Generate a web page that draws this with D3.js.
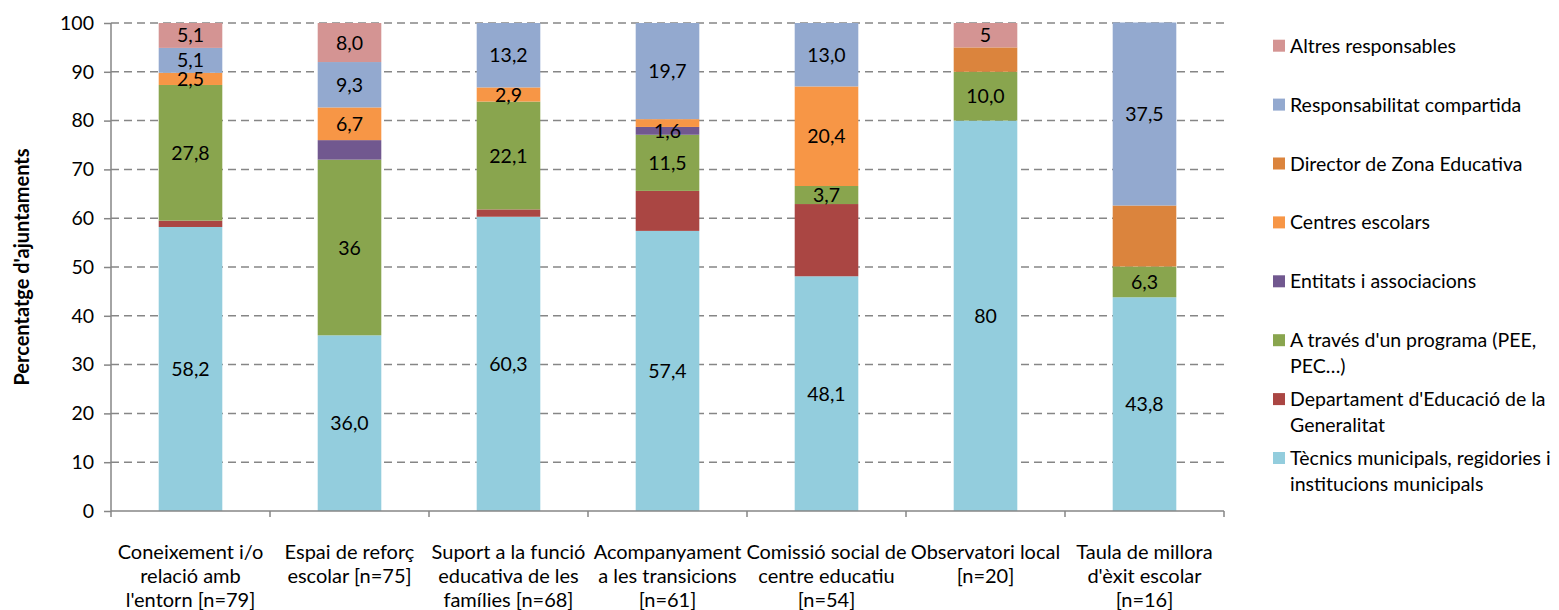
<!DOCTYPE html>
<html>
<head>
<meta charset="utf-8">
<script src="https://cdn.jsdelivr.net/npm/d3@7"></script>
<style>
body { margin: 0; background: #fff; }
svg text { font-family: Lato, "Open Sans", sans-serif; fill: #000; }
</style>
</head>
<body>
<svg width="1559" height="610"></svg>
<script>
// categories (each entry = wrapped lines of the tick label)
var categories = [
    ["Coneixement i/o", "relació amb", "l'entorn [n=79]"],
    ["Espai de reforç", "escolar [n=75]"],
    ["Suport a la funció", "educativa de les", "famílies [n=68]"],
    ["Acompanyament", "a les transicions", "[n=61]"],
    ["Comissió social de", "centre educatiu", "[n=54]"],
    ["Observatori local", "[n=20]"],
    ["Taula de millora", "d'èxit escolar", "[n=16]"]
];

// series, bottom to top
var seriesNames = [
    "Tècnics municipals, regidories i institucions municipals",
    "Departament d'Educació de la Generalitat",
    "A través d'un programa (PEE, PEC...)",
    "Entitats i associacions",
    "Centres escolars",
    "Director de Zona Educativa",
    "Responsabilitat compartida",
    "Altres responsables"
];
var legendLines = [
    ["Tècnics municipals, regidories i", "institucions municipals"],
    ["Departament d'Educació de la", "Generalitat"],
    ["A través d'un programa (PEE,", "PEC…)"],
    ["Entitats i associacions"],
    ["Centres escolars"],
    ["Director de Zona Educativa"],
    ["Responsabilitat compartida"],
    ["Altres responsables"]
];
var colors = ["#93cddd", "#aa4643", "#89a54e", "#71588f", "#f79646", "#db843d", "#93a9cf", "#d49493"];

var tecnics     = [58.2, 36.0, 60.3, 57.4, 48.1, 80, 43.8];
var departament = [1.3, 0, 1.5, 8.2, 14.8, 0, 0];
var programa    = [27.8, 36, 22.1, 11.5, 3.7, 10.0, 6.3];
var entitats    = [0, 4.0, 0, 1.6, 0, 0, 0];
var centres     = [2.5, 6.7, 2.9, 1.6, 20.4, 0, 0];
var director    = [0, 0, 0, 0, 0, 5, 12.5];
var compartida  = [5.1, 9.3, 13.2, 19.7, 13.0, 0, 37.5];
var altres      = [5.1, 8.0, 0, 0, 0, 5, 0];

// data labels as printed (null = not shown)
var labTecnics     = ["58,2", "36,0", "60,3", "57,4", "48,1", "80", "43,8"];
var labDepartament = [null, null, null, null, null, null, null];
var labPrograma    = ["27,8", "36", "22,1", "11,5", "3,7", "10,0", "6,3"];
var labEntitats    = [null, null, null, "1,6", null, null, null];
var labCentres     = ["2,5", "6,7", "2,9", null, "20,4", null, null];
var labDirector    = [null, null, null, null, null, null, null];
var labCompartida  = ["5,1", "9,3", "13,2", "19,7", "13,0", null, "37,5"];
var labAltres      = ["5,1", "8,0", null, null, null, "5", null];

var yTicks = [0, 10, 20, 30, 40, 50, 60, 70, 80, 90, 100];

var seriesVals = [tecnics, departament, programa, entitats, centres, director, compartida, altres];
var seriesLabs = [labTecnics, labDepartament, labPrograma, labEntitats, labCentres, labDirector, labCompartida, labAltres];

var rows = categories.map(function(c, i) {
    var r = {idx: i};
    seriesNames.forEach(function(s, j) { r[s] = seriesVals[j][i]; });
    return r;
});

var svg = d3.select("svg");
var plotLeft = 111, plotRight = 1224, plotTop = 23, plotBottom = 511;
var axisColor = "#868686";
var fs = "19.5px";

var x = d3.scaleBand().domain(d3.range(categories.length)).range([plotLeft, plotRight]).paddingInner(0.6).paddingOuter(0.3);
var y = d3.scaleLinear().domain([0, 100]).range([plotBottom, plotTop]);

// gridlines
svg.append("g").selectAll("line")
    .data(yTicks.filter(function(t) { return t > 0; }))
    .enter().append("line")
    .attr("x1", plotLeft).attr("x2", plotRight)
    .attr("y1", function(d) { return y(d); }).attr("y2", function(d) { return y(d); })
    .attr("stroke", axisColor).attr("stroke-width", 1.5)
    .attr("stroke-dasharray", "8,5");

var stack = d3.stack().keys(seriesNames);
var layers = stack(rows);

var g = svg.append("g").selectAll("g")
    .data(layers)
    .enter().append("g")
    .attr("fill", function(d, i) { return colors[i]; });

g.selectAll("rect")
    .data(function(d) { return d; })
    .enter().append("rect")
    .attr("x", function(d) { return x(d.data.idx); })
    .attr("width", x.bandwidth())
    .attr("y", function(d) { return y(d[1]); })
    .attr("height", function(d) { return y(d[0]) - y(d[1]); });

// data labels
var labelG = svg.append("g");
layers.forEach(function(layer, j) {
    layer.forEach(function(d, i) {
        var t = seriesLabs[j][i];
        if (!t) return;
        labelG.append("text")
            .attr("x", x(i) + x.bandwidth() / 2)
            .attr("y", (y(d[0]) + y(d[1])) / 2)
            .attr("dy", "0.36em")
            .attr("text-anchor", "middle")
            .style("font-size", fs)
            .text(t);
    });
});

// y axis
var yAxis = d3.axisLeft(y).tickValues(yTicks).tickSize(7).tickPadding(10);
var ya = svg.append("g").attr("transform", "translate(" + plotLeft + ",0)").call(yAxis);
ya.select(".domain").attr("stroke", axisColor).attr("stroke-width", 1.5).attr("d", "M0," + plotTop + "V" + plotBottom);
ya.selectAll(".tick line").attr("stroke", axisColor).attr("stroke-width", 1.5);
ya.selectAll(".tick text").style("font-size", fs).style("font-family", "Lato, sans-serif").attr("fill", "#000");

// x axis line and boundary ticks
svg.append("line").attr("x1", plotLeft).attr("x2", plotRight).attr("y1", plotBottom).attr("y2", plotBottom)
    .attr("stroke", axisColor).attr("stroke-width", 1.5);
svg.append("g").selectAll("line")
    .data(d3.range(categories.length + 1))
    .enter().append("line")
    .attr("x1", function(i) { return plotLeft + i * x.step(); })
    .attr("x2", function(i) { return plotLeft + i * x.step(); })
    .attr("y1", plotBottom).attr("y2", plotBottom + 6)
    .attr("stroke", axisColor).attr("stroke-width", 1.5);

// category labels
var catG = svg.append("g").selectAll("text")
    .data(categories)
    .enter().append("text")
    .attr("text-anchor", "middle")
    .style("font-size", "20px");
catG.selectAll("tspan")
    .data(function(d, i) { return d.map(function(l) { return {l: l, i: i}; }); })
    .enter().append("tspan")
    .attr("x", function(d) { return x(d.i) + x.bandwidth() / 2; })
    .attr("y", function(d, k) { return 559 + k * 24; })
    .text(function(d) { return d.l; });

// y title
svg.append("text")
    .attr("transform", "translate(29," + 267 + ") rotate(-90)")
    .attr("text-anchor", "middle")
    .style("font-size", "20px").style("font-weight", "bold")
    .text("Percentatge d'ajuntaments");

// legend, top item first
var legend = svg.append("g").selectAll("g")
    .data(d3.range(seriesNames.length).reverse())
    .enter().append("g")
    .attr("transform", function(d, k) { return "translate(1273," + (45.7 + k * 58.9) + ")"; });
legend.append("rect").attr("x", 0).attr("y", -6).attr("width", 12).attr("height", 12)
    .attr("fill", function(d) { return colors[d]; });
var lt = legend.append("text").style("font-size", fs);
lt.selectAll("tspan")
    .data(function(d) { return legendLines[d]; })
    .enter().append("tspan")
    .attr("x", 17)
    .attr("y", function(d, k) { return k * 26; })
    .attr("dy", "0.36em")
    .text(function(d) { return d; });
</script>
</body>
</html>
